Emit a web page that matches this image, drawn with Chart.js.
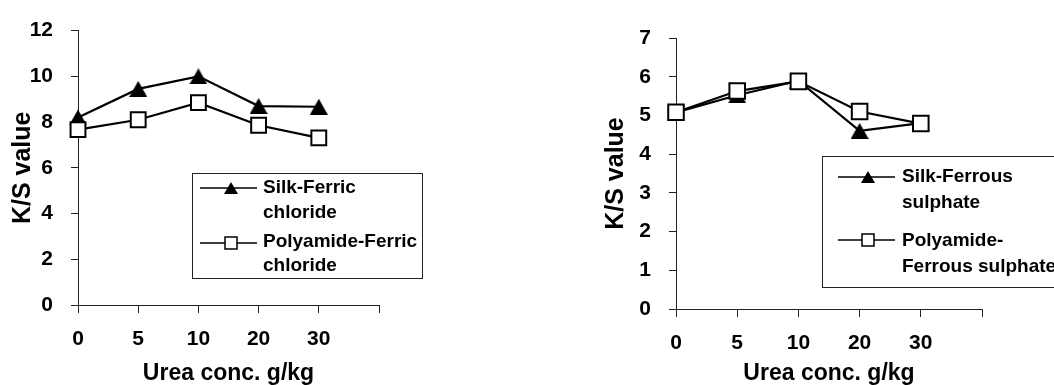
<!DOCTYPE html>
<html><head><meta charset="utf-8">
<script src="https://cdn.jsdelivr.net/npm/chart.js@4.4.1/dist/chart.umd.min.js"></script>
<style>
body{margin:0;background:#fff;width:1054px;height:385px;overflow:hidden;position:relative}
#c1{position:absolute;left:0;top:0}
#c2{position:absolute;left:560px;top:0}
</style></head><body>
<canvas id="c1" width="560" height="385"></canvas>
<canvas id="c2" width="494" height="385"></canvas>
<script>
// ---- data ----
const categories = ['0', '5', '10', '20', '30', ''];
const silkFerric = [8.2, 9.45, 10.0, 8.7, 8.67];
const polyFerric = [7.67, 8.1, 8.85, 7.86, 7.31];
const silkFerrous = [5.08, 5.52, 5.9, 4.6, 4.8];
const polyFerrous = [5.08, 5.63, 5.88, 5.1, 4.79];
const leftLabels = ['Silk-Ferric chloride', 'Polyamide-Ferric chloride'];
const leftLegendLines = [['Silk-Ferric', 'chloride'], ['Polyamide-Ferric', 'chloride']];
const rightLabels = ['Silk-Ferrous sulphate', 'Polyamide-Ferrous sulphate'];
const rightLegendLines = [['Silk-Ferrous', 'sulphate'], ['Polyamide-', 'Ferrous sulphate']];
const xTitle = 'Urea conc. g/kg';
const yTitle = 'K/S value';

const FONT = '"Liberation Sans", Arial, sans-serif';

function triCanvas(w, h) {
  const c = document.createElement('canvas');
  c.width = w; c.height = h;
  const g = c.getContext('2d');
  g.fillStyle = '#000';
  g.beginPath();
  g.moveTo(w / 2, 0); g.lineTo(w, h); g.lineTo(0, h); g.closePath();
  g.fill();
  return c;
}
const triBig = triCanvas(18, 16);

const legendPlugin = {
  id: 'boxLegend',
  afterDraw(chart, args, o) {
    const ctx = chart.ctx;
    ctx.save();
    ctx.strokeStyle = '#222';
    ctx.lineWidth = 1;
    ctx.strokeRect(o.box[0] + 0.5, o.box[1] + 0.5, o.box[2], o.box[3]);
    ctx.font = 'bold ' + o.fontSize + 'px ' + FONT;
    ctx.textBaseline = 'middle';
    ctx.textAlign = 'left';
    o.entries.forEach((e, i) => {
      ctx.strokeStyle = '#000';
      ctx.lineWidth = 1.5;
      ctx.beginPath();
      ctx.moveTo(o.lineX[0], e.lineY); ctx.lineTo(o.lineX[1], e.lineY);
      ctx.stroke();
      const mx = o.markerX, my = e.lineY;
      if (i === 0) {
        ctx.fillStyle = '#000';
        ctx.beginPath();
        ctx.moveTo(mx, my - 6); ctx.lineTo(mx + 7, my + 6); ctx.lineTo(mx - 7, my + 6); ctx.closePath();
        ctx.fill();
      } else {
        ctx.fillStyle = '#fff';
        ctx.fillRect(mx - 6, my - 6, 12, 12);
        ctx.lineWidth = 1.5;
        ctx.strokeRect(mx - 6, my - 6, 12, 12);
      }
      ctx.fillStyle = '#000';
      e.lines.forEach((t, j) => ctx.fillText(t, o.textX, e.textY[j]));
    });
    ctx.restore();
  }
};

function makeChart(id, s1, s2, labels, yMax, step, geom, legend) {
  return new Chart(document.getElementById(id), {
    type: 'line',
    plugins: [legendPlugin],
    data: {
      labels: categories,
      datasets: [
        { label: labels[0], data: s1, order: 2, borderColor: '#000', borderWidth: 2.2,
          pointStyle: triBig, pointRadius: 9, backgroundColor: '#000', tension: 0 },
        { label: labels[1], data: s2, order: 1, borderColor: '#000', borderWidth: 2.2,
          pointStyle: 'rect', pointRadius: geom.sq, pointBorderWidth: 2, pointBackgroundColor: '#fff',
          pointBorderColor: '#000', tension: 0 }
      ]
    },
    options: {
      responsive: false, animation: false, devicePixelRatio: 1,
      layout: { padding: { left: 0, top: geom.top, right: geom.right, bottom: 0 } },
      plugins: { legend: { display: false }, tooltip: { enabled: false }, boxLegend: legend },
      scales: {
        x: {
          type: 'category', offset: false,
          afterFit(s) { s.height = geom.xh; },
          grid: { drawOnChartArea: false, drawTicks: true, tickLength: 8, color: '#222' },
          border: { display: true, color: '#222', width: 1 },
          ticks: { color: '#000', padding: 14, maxRotation: 0, autoSkip: false,
                   font: { family: FONT, weight: 'bold', size: 21 } },
          title: { display: true, text: xTitle, color: '#000', padding: 0,
                   font: { family: FONT, weight: 'bold', size: 23, lineHeight: 1 } }
        },
        y: {
          min: 0, max: yMax,
          afterFit(s) { s.width = geom.yw; },
          grid: { drawOnChartArea: false, drawTicks: true, tickLength: 7, color: '#222' },
          border: { display: true, color: '#222', width: 1 },
          ticks: { stepSize: step, color: '#000', padding: 18,
                   font: { family: FONT, weight: 'bold', size: 21 } },
          title: { display: true, text: yTitle, color: '#000', padding: { top: geom.ytp, bottom: 0 },
                   font: { family: FONT, weight: 'bold', size: 25, lineHeight: 1 } }
        }
      }
    }
  });
}

makeChart('c1', silkFerric, polyFerric, leftLabels, 12, 2,
  { top: 26, right: 181, xh: 80, yw: 78, ytp: 11, sq: 10.5 },
  { box: [192, 173, 230, 105], fontSize: 19, lineX: [200, 257], markerX: 231, textX: 263,
    entries: [ { lines: leftLegendLines[0], lineY: 188, textY: [188, 213] },
               { lines: leftLegendLines[1], lineY: 243, textY: [242, 266] } ] });

makeChart('c2', silkFerrous, polyFerrous, rightLabels, 7, 1,
  { top: 38, right: 72, xh: 76, yw: 116, ytp: 44, sq: 11 },
  { box: [262, 156, 240, 131], fontSize: 19, lineX: [278, 335], markerX: 308, textX: 342,
    entries: [ { lines: rightLegendLines[0], lineY: 177, textY: [177, 203] },
               { lines: rightLegendLines[1], lineY: 240, textY: [241, 267] } ] });
</script>
</body></html>
